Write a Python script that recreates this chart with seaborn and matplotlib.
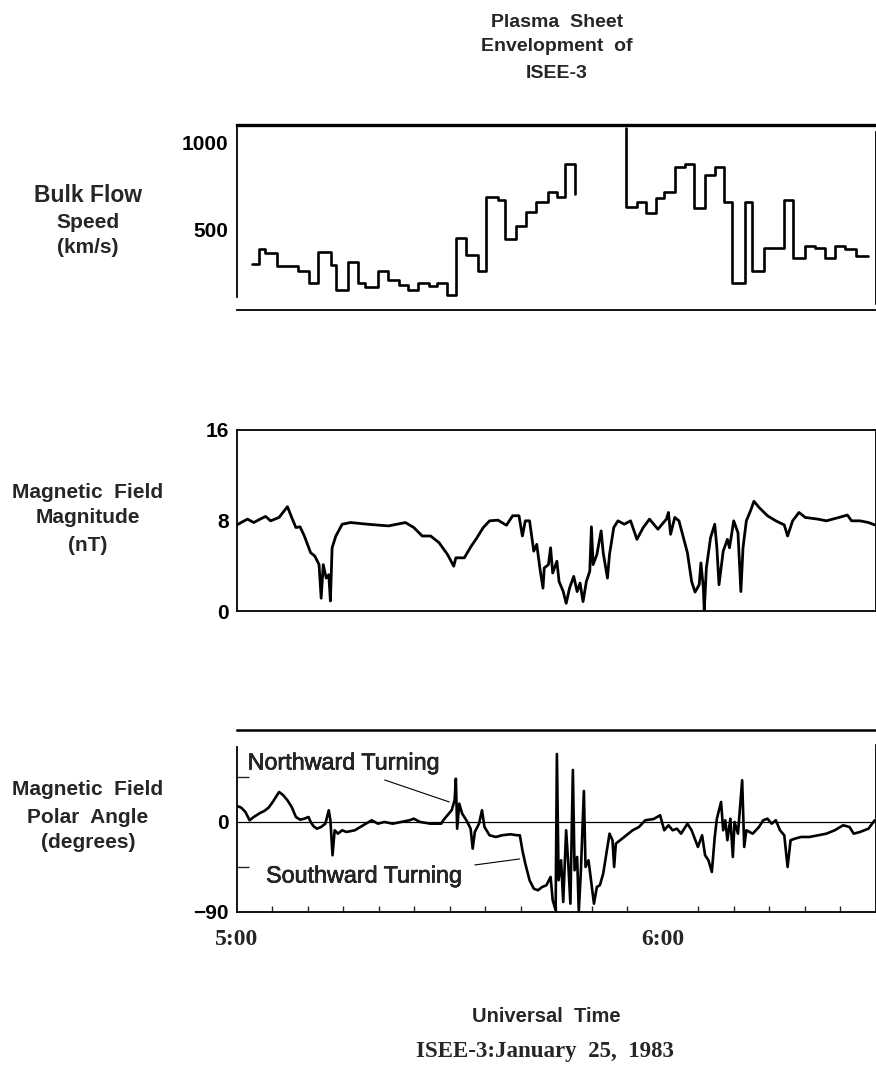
import numpy as np
import pandas as pd
import matplotlib
matplotlib.use("Agg")
import matplotlib.pyplot as plt
import matplotlib.patheffects as pe
import seaborn as sns

# ---------------- data (minutes after 5:00 UT) ----------------
# bulk flow speed, step levels (km/s); two segments around the data gap
flow_t = [2.1, 3.1, 3.9, 5.6, 8.6, 10.1, 11.4, 13.2, 13.9, 15.6, 17.0, 18.1, 19.9,
          21.3, 22.8, 24.1, 25.5, 27.0, 28.2, 29.6, 30.9, 32.3, 33.9, 35.1, 36.8,
          37.8, 39.3, 40.7, 42.1, 43.8, 45.1, 46.2, 47.6]
flow_v = [304, 389, 365, 292, 262, 195, 374, 298, 155, 313, 193, 170, 262,
          212, 185, 155, 195, 176, 195, 128, 452, 355, 265, 689, 672,
          447, 523, 603, 657, 718, 689, 880, 704]
flow2_t = [54.8, 54.8, 56.3, 57.6, 59.0, 60.2, 61.7, 63.1, 64.4, 65.9, 67.3, 68.6,
           69.7, 71.6, 72.6, 74.2, 77.1, 78.3, 80.0, 81.4, 82.8, 84.2, 85.6, 87.2, 88.9]
flow2_v = [1082, 632, 662, 599, 685, 718, 863, 880, 624, 813, 863, 657,
           193, 657, 262, 395, 670, 338, 409, 395, 338, 405, 391, 351, 351]

# magnetic field magnitude (nT)
bmag_t = [0.0, 0.59, 1.48, 2.37, 3.26, 4.03, 4.74, 5.93, 7.11, 7.71, 8.30, 8.89, 9.49,
          10.38, 10.97, 11.56, 11.86, 12.15, 12.57, 12.93, 13.16, 13.40, 13.93, 14.82,
          16.01, 18.38, 21.34, 23.72, 24.90, 26.09, 27.28, 28.46, 29.65, 30.53, 30.83,
          32.02, 32.91, 33.80, 34.69, 35.58, 36.76, 37.95, 38.83, 39.72, 40.20, 40.61,
          41.21, 41.80, 42.22, 42.69, 43.10, 43.28, 43.87, 44.17, 44.47, 45.06, 45.36,
          45.95, 46.37, 46.84, 47.43, 47.91, 48.32, 48.74, 49.21, 49.69, 49.92, 50.16,
          50.69, 51.29, 51.58, 52.18, 52.47, 53.07, 53.66, 54.55, 55.44, 56.33, 57.22,
          58.10, 59.29, 60.48, 60.77, 61.07, 61.66, 62.25, 63.44, 64.03, 64.51, 65.10,
          65.34, 65.69, 65.81, 66.11, 66.70, 67.29, 67.59, 67.89, 68.48, 69.07, 69.37,
          69.96, 70.56, 70.97, 71.27, 71.74, 72.33, 72.81, 73.52, 74.71, 75.89, 77.08,
          77.55, 78.26, 79.15, 80.04, 81.82, 83.01, 84.79, 85.97, 86.56, 87.75, 88.94, 89.82]
bmag_v = [7.61, 7.82, 8.12, 7.82, 8.12, 8.36, 7.97, 8.27, 9.22, 8.27, 7.38, 7.44, 6.63,
          5.15, 4.85, 4.10, 1.13, 4.10, 2.91, 3.21, 0.89, 5.59, 6.63, 7.67,
          7.82, 7.67, 7.52, 7.82, 7.38, 6.63, 6.63, 6.04, 5.00, 3.96, 4.70,
          4.70, 5.65, 6.48, 7.38, 7.97, 8.03, 7.58, 8.42, 8.42, 6.63, 7.97,
          7.97, 5.29, 5.89, 3.66, 2.02, 3.81, 4.10, 5.59, 3.36, 4.40, 2.62,
          1.72, 0.68, 2.02, 3.06, 1.72, 2.47, 0.83, 2.62, 3.51, 7.44, 4.10,
          5.00, 7.08, 5.15, 2.91, 5.00, 7.38, 7.97, 7.67, 7.97, 6.33, 7.38,
          8.12, 7.23, 8.12, 8.71, 6.78, 8.27, 7.97, 5.15, 2.62, 1.67, 2.32,
          4.25, 2.02, 0.0, 3.81, 6.48, 7.67, 5.59, 2.32, 5.29, 6.33, 5.59,
          7.97, 6.93, 1.72, 5.59, 7.97, 8.86, 9.70, 9.16, 8.42, 7.97, 7.61,
          6.63, 7.97, 8.71, 8.27, 8.12, 7.97, 8.27, 8.48, 7.97, 7.97, 7.82, 7.61]

# magnetic field polar angle (degrees)
theta_t = [0.12, 0.59, 1.19, 1.78, 2.37, 3.26, 3.85, 4.45, 5.04, 5.93, 6.52, 7.11, 7.71,
           8.30, 8.89, 9.49, 10.08, 10.38, 10.79, 11.27, 11.86, 12.45, 12.93, 13.16,
           13.46, 13.76, 14.23, 14.82, 15.42, 16.60, 17.79, 18.97, 19.86, 20.75, 21.94,
           23.12, 24.31, 24.90, 25.79, 27.27, 28.76, 29.05, 29.65, 30.24, 30.65, 30.83,
           31.01, 31.31, 31.72, 32.31, 32.91, 33.20, 33.50, 34.09, 34.51, 34.86, 35.57,
           36.46, 37.35, 38.54, 39.43, 39.84, 40.20, 40.61, 41.21, 41.80, 42.39, 42.99,
           43.58, 44.17, 44.47, 44.88, 45.06, 45.30, 45.65, 45.95, 46.36, 46.66, 46.96,
           47.31, 47.55, 47.91, 48.14, 48.44, 48.86, 49.09, 49.51, 49.92, 50.28, 50.69,
           51.11, 51.58, 52.06, 52.47, 52.89, 53.12, 53.36, 53.95, 54.84, 55.73, 56.62,
           57.51, 58.70, 59.59, 60.18, 60.77, 61.36, 61.96, 62.55, 63.44, 64.03, 64.92,
           65.51, 65.93, 66.40, 66.88, 67.29, 67.59, 67.89, 68.18, 68.48, 68.78, 69.07,
           69.49, 69.84, 70.08, 70.56, 71.15, 71.44, 71.74, 72.63, 73.52, 74.11, 74.71,
           75.30, 75.89, 76.48, 77.08, 77.55, 77.97, 78.56, 79.45, 80.63, 81.82, 83.01,
           84.19, 85.38, 86.27, 86.86, 87.75, 88.94, 89.82]
theta_v = [15.7, 14.3, 10.0, 1.7, 5.0, 9.0, 11.0, 14.3, 20.0, 30.0, 26.7, 21.7, 15.0,
           5.0, 2.3, 3.3, 5.0, 0.0, -4.3, -6.7, -5.0, -1.7, 11.7, 1.7,
           -33.3, -8.3, -11.7, -8.3, -10.0, -8.3, -3.3, 1.7, -1.7, 0.0, -1.7,
           0.0, 1.7, 3.3, 0.0, -1.7, -1.7, 1.7, 6.7, 11.7, 21.7, 43.3,
           -6.7, 18.3, 8.3, 1.7, -6.7, -26.7, -10.0, -1.7, 11.7, -5.0, -13.3,
           -15.0, -13.3, -12.3, -13.3, -13.3, -28.3, -41.7, -58.3, -66.7, -68.3, -65.0,
           -63.3, -55.0, -78.3, -88.3, 68.0, -58.3, -38.3, -80.0, -8.3, -41.7, -81.7,
           52.0, -48.3, -35.0, -90.0, -48.3, 31.0, -45.0, -38.3, -61.7, -81.7, -65.0,
           -63.3, -51.7, -30.0, -11.7, -18.3, -45.0, -21.7, -18.3, -13.3, -8.3, -5.0,
           1.7, 3.0, 6.7, -8.3, -3.3, -8.3, -6.7, -11.7, -1.7, -8.3, -25.0,
           -13.3, -33.3, -38.3, -50.0, -15.0, 3.3, 11.7, 20.0, -8.3, 1.7, -18.3,
           3.3, -35.0, 0.0, -11.7, 41.7, -25.0, -8.3, -11.7, -5.0, 1.7, 3.3,
           -1.7, 1.7, -8.3, -13.3, -45.0, -18.3, -16.7, -15.0, -15.0, -13.3, -11.7,
           -8.3, -3.3, -5.0, -11.7, -10.0, -6.7, 1.7]

time_ticks = [0, 60]
time_labels = ["5:00", "6:00"]

flow = pd.concat([
    pd.DataFrame({"t": flow_t, "v": flow_v, "seg": 0}),
    pd.DataFrame({"t": flow2_t, "v": flow2_v, "seg": 1}),
])
bmag = pd.DataFrame({"t": bmag_t, "v": bmag_v})
theta = pd.DataFrame({"t": theta_t, "v": theta_v})

# ---------------- figure ----------------
sns.set_theme(style="white")
plt.rcParams["font.family"] = ["Liberation Sans", "DejaVu Sans"]

fig = plt.figure(figsize=(8.76, 10.68), dpi=100)
L, W = 0.2705, 0.7295
ax1 = fig.add_axes([L, 0.7097, W, 0.1732])
ax2 = fig.add_axes([L, 0.4279, W, 0.1695])
ax3 = fig.add_axes([L, 0.1461, W, 0.1704])

sns.lineplot(data=flow, x="t", y="v", units="seg", estimator=None, sort=False,
             drawstyle="steps-post", color="black", lw=1.9, ax=ax1)
sns.lineplot(data=bmag, x="t", y="v", estimator=None, sort=False,
             color="black", lw=2.0, ax=ax2)
ax3.axhline(0, color="black", lw=0.9)
sns.lineplot(data=theta, x="t", y="v", estimator=None, sort=False,
             color="black", lw=1.9, ax=ax3)

for ax in (ax1, ax2, ax3):
    ax.set_xlim(0, 90)
    ax.set_xlabel("")
    ax.set_ylabel("")
    for s in ax.spines.values():
        s.set_color("black")
        s.set_linewidth(1.3)
    ax.tick_params(axis="y", direction="in", length=5, width=1.2, pad=6,
                   labelsize=15, colors="black")

# top panel
ax1.set_ylim(40, 1101)
ax1.set_yticks([500, 1000])
ax1.set_yticklabels(["500", "1000"], fontweight="bold", fontsize=15)
ax1.set_xticks([])
ax1.spines["top"].set_linewidth(2.4)
ax1.spines["left"].set_bounds(113, 1086)
ax1.spines["right"].set_bounds(75, 1060)

# middle panel
ax2.set_ylim(0, 16)
ax2.set_yticks([0, 8, 16])
ax2.set_yticklabels(["0", "8", "16"], fontweight="bold", fontsize=15)
ax2.set_xticks([])

# bottom panel
ax3.set_ylim(-90, 92)
ax3.set_yticks([-90, 0])
ax3.set_yticklabels(["\u221290", "0"], fontweight="bold", fontsize=15)
ax3.set_yticks([-45, 45], minor=True)
ax3.tick_params(axis="y", which="minor", direction="in", length=8.5, width=1.0, left=True)
ax3.spines["top"].set_linewidth(1.8)
ax3.spines["left"].set_bounds(-90, 75)
ax3.spines["right"].set_bounds(-90, 77)
ax3.set_xticks(time_ticks)
ax3.set_xticklabels(time_labels, fontfamily="Liberation Serif", fontweight="bold", fontsize=17)
ax3.set_xticks(np.arange(5, 90, 5), minor=True)
ax3.tick_params(axis="x", which="major", direction="in", length=0, pad=12, bottom=True)
ax3.tick_params(axis="x", which="minor", direction="in", length=4, width=1.0, bottom=True)

thick = [pe.withStroke(linewidth=0.45, foreground="black")]
ax3.text(1.5, 59, "Northward Turning", fontsize=16.8, va="center", ha="left", path_effects=thick)
ax3.plot([20.8, 29.9], [42.0, 20.0], color="black", lw=0.8)
ax3.text(4.1, -54, "Southward Turning", fontsize=16.8, va="center", ha="left", path_effects=thick)
ax3.plot([33.5, 39.8], [-43, -37], color="black", lw=0.8)

# left-hand labels
cx = 0.1005
fig.text(cx, 0.8174, "Bulk Flow", ha="center", va="center", fontsize=16.5, fontweight="bold")
fig.text(cx, 0.7921, "Speed", ha="center", va="center", fontsize=15, fontweight="bold")
fig.text(cx, 0.7682, "(km/s)", ha="center", va="center", fontsize=15, fontweight="bold")
fig.text(cx, 0.5393, "Magnetic  Field", ha="center", va="center", fontsize=15, fontweight="bold")
fig.text(cx, 0.5150, "Magnitude", ha="center", va="center", fontsize=15, fontweight="bold")
fig.text(cx, 0.4897, "(nT)", ha="center", va="center", fontsize=15, fontweight="bold")
fig.text(cx, 0.2603, "Magnetic  Field", ha="center", va="center", fontsize=15, fontweight="bold")
fig.text(cx, 0.2350, "Polar  Angle", ha="center", va="center", fontsize=15, fontweight="bold")
fig.text(cx, 0.2107, "(degrees)", ha="center", va="center", fontsize=15, fontweight="bold")

# title and bottom captions
tx = 0.636
fig.text(tx, 0.9794, "Plasma  Sheet", ha="center", va="center", fontsize=14, fontweight="bold")
fig.text(tx, 0.9560, "Envelopment  of", ha="center", va="center", fontsize=14, fontweight="bold")
fig.text(tx, 0.9316, "ISEE-3", ha="center", va="center", fontsize=14, fontweight="bold")
fig.text(0.624, 0.0478, "Universal  Time", ha="center", va="center", fontsize=14.5, fontweight="bold")
fig.text(0.622, 0.0150, "ISEE-3:January  25,  1983", ha="center", va="center",
         fontsize=16.5, fontweight="bold", fontfamily="Liberation Serif")

fig.savefig("out.png", dpi=100)
